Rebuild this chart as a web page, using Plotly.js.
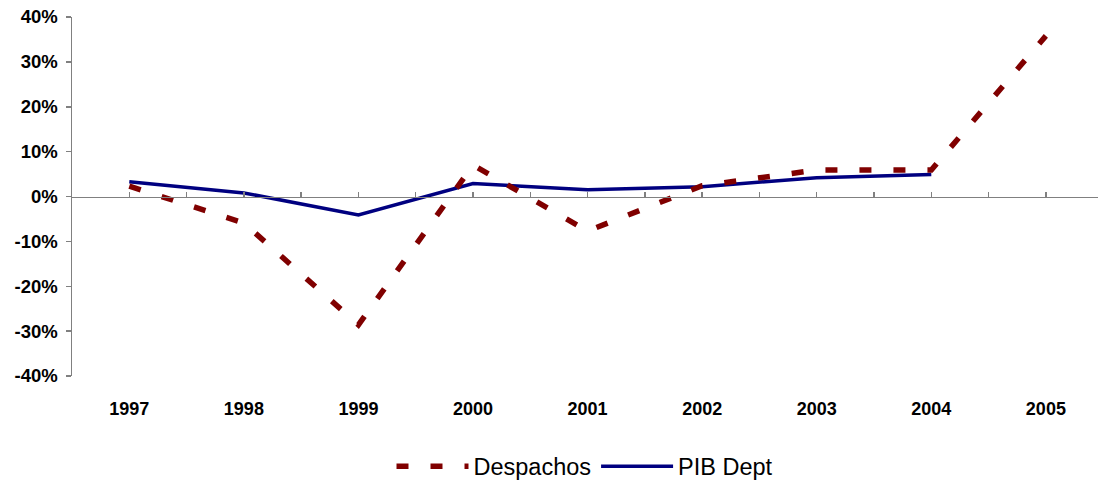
<!DOCTYPE html>
<html>
<head>
<meta charset="utf-8">
<script src="https://cdn.plot.ly/plotly-3.0.1.min.js"></script>
<style>
  html, body { margin: 0; padding: 0; background: #ffffff; }
  #chart { width: 1098px; height: 484px; }
</style>
</head>
<body>
<div id="chart"></div>
<script>
// Annual growth rates (%), 1997–2005
const years = [1997, 1998, 1999, 2000, 2001, 2002, 2003, 2004, 2005];
const despachos = [2.3, -5.9, -28.6, 7.0, -7.7, 2.4, 5.9, 5.9, 35.8];
const pibDept = [3.3, 0.8, -4.1, 2.9, 1.5, 2.2, 4.2, 4.9, null];

const yTickVals = [-40, -30, -20, -10, 0, 10, 20, 30, 40];
const yTickText = ['-40%', '-30%', '-20%', '-10%', '0%', '10%', '20%', '30%', '40%'];

const FONT = 'Liberation Sans, Arial, sans-serif';
const AXIS_GREY = '#808080';
const xRange = [1996.5, 2005.455];

const traces = [
  {
    type: 'scatter', mode: 'lines', name: 'Despachos',
    x: years, y: despachos, xaxis: 'x2', yaxis: 'y',
    line: { color: '#800000', width: 5.5, dash: '12px,22px' }
  },
  {
    type: 'scatter', mode: 'lines', name: 'PIB Dept',
    x: years, y: pibDept, xaxis: 'x', yaxis: 'y',
    line: { color: '#000080', width: 3.5 },
    connectgaps: false
  }
];

const layout = {
  width: 1098, height: 484,
  margin: { l: 72, r: 0, t: 16.5, b: 107.5, autoexpand: false },
  paper_bgcolor: '#ffffff', plot_bgcolor: '#ffffff',
  font: { family: FONT, color: '#000000' },
  showlegend: true,
  legend: {
    orientation: 'h', x: 0.5, xanchor: 'center', y: -0.252, yanchor: 'middle',
    font: { family: FONT, size: 23.5, color: '#000000' },
    itemwidth: 72, traceorder: 'normal'
  },
  // category labels along the bottom
  xaxis: {
    range: xRange, fixedrange: true,
    tickmode: 'array', tickvals: years, ticktext: years.map(String),
    ticks: '', showline: false, showgrid: false, zeroline: false,
    tickfont: { family: FONT, size: 18, color: '#000000', weight: 'bold' },
    ticklabelstandoff: 20
  },
  // axis line crossing at zero, with short inward ticks
  xaxis2: {
    overlaying: 'x', anchor: 'free', position: 0.5,
    range: xRange, fixedrange: true,
    tickmode: 'linear', tick0: 1996.5, dtick: 0.5,
    ticks: 'inside', ticklen: 5, tickwidth: 1.5, tickcolor: AXIS_GREY,
    showline: true, linecolor: AXIS_GREY, linewidth: 1.5,
    showticklabels: false, showgrid: false, zeroline: false
  },
  yaxis: {
    range: [-40, 40], fixedrange: true,
    tickmode: 'array', tickvals: yTickVals, ticktext: yTickText,
    ticks: 'outside', ticklen: 5, tickwidth: 1.5, tickcolor: AXIS_GREY,
    showline: true, linecolor: AXIS_GREY, linewidth: 1.5,
    showgrid: false, zeroline: false,
    tickfont: { family: FONT, size: 18.5, color: '#000000', weight: 'bold' },
    ticklabelstandoff: 4
  }
};

Plotly.newPlot('chart', traces, layout, { staticPlot: true, displayModeBar: false });
</script>
</body>
</html>
